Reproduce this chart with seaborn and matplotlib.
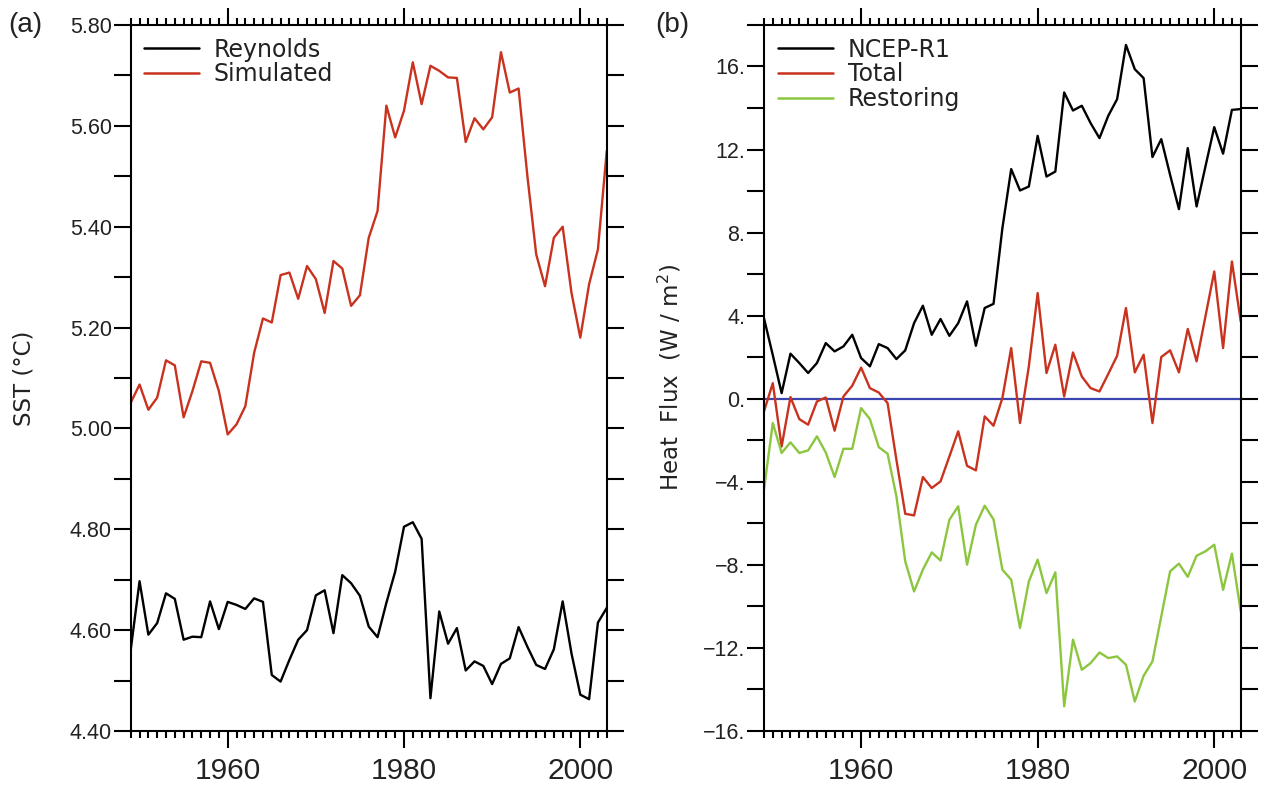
import matplotlib
matplotlib.use("Agg")
import matplotlib.pyplot as plt
import numpy as np
import pandas as pd
import seaborn as sns
from matplotlib.ticker import FixedLocator, MultipleLocator, FuncFormatter
from matplotlib.lines import Line2D

# ---------------- data ----------------
years = list(range(1949, 2004))

reynolds = [4.561, 4.697, 4.591, 4.614, 4.673, 4.662, 4.581, 4.587, 4.586, 4.657,
            4.602, 4.656, 4.650, 4.642, 4.663, 4.656, 4.511, 4.498, 4.541, 4.581,
            4.600, 4.669, 4.679, 4.594, 4.709, 4.693, 4.668, 4.607, 4.586, 4.654,
            4.716, 4.805, 4.814, 4.781, 4.465, 4.637, 4.573, 4.604, 4.520, 4.538,
            4.529, 4.493, 4.533, 4.544, 4.606, 4.567, 4.531, 4.523, 4.562, 4.657,
            4.554, 4.472, 4.463, 4.615, 4.644]

simulated = [5.051, 5.087, 5.037, 5.061, 5.135, 5.125, 5.022, 5.074, 5.133, 5.130,
             5.074, 4.988, 5.008, 5.044, 5.150, 5.218, 5.210, 5.304, 5.309, 5.257,
             5.322, 5.296, 5.229, 5.332, 5.317, 5.243, 5.264, 5.378, 5.431, 5.640,
             5.577, 5.630, 5.726, 5.643, 5.719, 5.709, 5.696, 5.695, 5.568, 5.615,
             5.593, 5.617, 5.746, 5.666, 5.674, 5.500, 5.345, 5.282, 5.378, 5.400,
             5.269, 5.180, 5.286, 5.355, 5.550]

ncep = [3.88, 2.10, 0.27, 2.17, 1.72, 1.24, 1.72, 2.68, 2.28, 2.52,
        3.08, 1.96, 1.56, 2.63, 2.44, 1.91, 2.33, 3.64, 4.48, 3.08,
        3.84, 3.03, 3.64, 4.69, 2.55, 4.37, 4.57, 8.20, 11.06, 10.03,
        10.22, 12.66, 10.70, 10.94, 14.75, 13.88, 14.11, 13.27, 12.55, 13.63,
        14.43, 17.04, 15.87, 15.44, 11.64, 12.50, 10.78, 9.13, 12.07, 9.26,
        11.18, 13.08, 11.80, 13.91, 13.95]

total = [-0.61, 0.75, -2.30, 0.08, -0.98, -1.25, -0.13, 0.06, -1.54, 0.11,
         0.63, 1.50, 0.51, 0.30, -0.21, -2.94, -5.54, -5.62, -3.77, -4.30,
         -3.98, -2.78, -1.57, -3.23, -3.45, -0.85, -1.30, 0.03, 2.44, -1.17,
         1.56, 5.09, 1.24, 2.60, 0.11, 2.23, 1.07, 0.51, 0.35, 1.20,
         2.07, 4.37, 1.27, 2.12, -1.17, 2.01, 2.33, 1.27, 3.36, 1.80,
         3.96, 6.13, 2.44, 6.61, 3.72]

restoring = [-4.38, -1.17, -2.61, -2.10, -2.61, -2.49, -1.81, -2.59, -3.77, -2.41,
             -2.41, -0.45, -0.98, -2.33, -2.65, -4.70, -7.83, -9.28, -8.23, -7.40,
             -7.79, -5.83, -5.18, -7.99, -6.07, -5.15, -5.81, -8.23, -8.71, -11.04,
             -8.80, -7.75, -9.36, -8.36, -14.81, -11.60, -13.05, -12.73, -12.22, -12.49,
             -12.41, -12.81, -14.58, -13.34, -12.65, -10.48, -8.31, -7.94, -8.58, -7.56,
             -7.35, -7.03, -9.20, -7.46, -10.24]

zero_level = 0.0

series_a = ["Reynolds", "Simulated"]
series_b = ["NCEP-R1", "Total", "Restoring"]

x_major_ticks = [1960, 1980, 2000]
sst_ticks = [4.40, 4.60, 4.80, 5.00, 5.20, 5.40, 5.60, 5.80]
flux_ticks = [-16, -12, -8, -4, 0, 4, 8, 12, 16]

# ---------------- style ----------------
RED = "#C8321E"
GREEN = "#8CC63F"
BLUE = "#3B45B0"
colors_a = {"Reynolds": "black", "Simulated": RED}
colors_b = {"NCEP-R1": "black", "Total": RED, "Restoring": GREEN}

sns.set_theme(style="white")
plt.rcParams["font.family"] = ["Liberation Sans", "DejaVu Sans"]

fig = plt.figure(figsize=(12.68, 7.9), dpi=100)
axA = fig.add_axes([0.1031, 0.0747, 0.3754, 0.8937])
axB = fig.add_axes([0.6025, 0.0747, 0.3760, 0.8937])

n = len(years)
dfA = pd.DataFrame({
    "Year": years * 2,
    "SST": reynolds + simulated,
    "Series": [series_a[0]] * n + [series_a[1]] * n,
})
dfB = pd.DataFrame({
    "Year": years * 3,
    "Flux": ncep + total + restoring,
    "Series": [series_b[0]] * n + [series_b[1]] * n + [series_b[2]] * n,
})

LW = 1.7
sns.lineplot(data=dfA, x="Year", y="SST", hue="Series", hue_order=series_a,
             palette=colors_a, linewidth=LW, ax=axA, legend=False)
axB.axhline(zero_level, color=BLUE, linewidth=1.6, zorder=1.5)
sns.lineplot(data=dfB, x="Year", y="Flux", hue="Series", hue_order=series_b,
             palette=colors_b, linewidth=LW, ax=axB, legend=False)

axA.set_ylim(4.40, 5.80)
axB.set_ylim(-16, 18)

axA.yaxis.set_major_locator(FixedLocator(sst_ticks))
axA.yaxis.set_minor_locator(MultipleLocator(0.1))
axA.yaxis.set_major_formatter(FuncFormatter(lambda v, p: f"{v:.2f}"))

axB.yaxis.set_major_locator(FixedLocator(flux_ticks))
axB.yaxis.set_minor_locator(MultipleLocator(2))
axB.yaxis.set_major_formatter(
    FuncFormatter(lambda v, p: (("\u2212" if v < 0 else "") + f"{abs(int(round(v)))}.")))

for ax in (axA, axB):
    ax.set_xlim(1949, 2003)
    ax.xaxis.set_major_locator(FixedLocator(x_major_ticks))
    ax.xaxis.set_minor_locator(MultipleLocator(1))
    ax.xaxis.set_major_formatter(FuncFormatter(lambda v, p: f"{int(v)}"))
    ax.tick_params(axis="x", which="both", direction="out", top=True, bottom=True,
                   width=1.5, color="black")
    ax.tick_params(axis="x", which="major", length=12.5, labelsize=21.5, pad=6,
                   labelcolor="#222222")
    ax.tick_params(axis="x", which="minor", length=5)
    ax.tick_params(axis="y", which="both", direction="out", left=True, right=True,
                   length=12.5, width=1.5, color="black")
    ax.tick_params(axis="y", which="major", labelsize=15.5, pad=1, labelcolor="#222222")
    for s in ax.spines.values():
        s.set_linewidth(1.5)
        s.set_color("black")
    ax.set_xlabel("")
    ax.grid(False)

axA.set_ylabel("SST (°C)", fontsize=16.5, color="#222222", family="DejaVu Sans")
axA.yaxis.set_label_coords(-0.2, 0.5)
axB.set_ylabel("Heat  Flux  (W / m$^2$)", fontsize=16.5, color="#222222",
               family="DejaVu Sans")
axB.yaxis.set_label_coords(-0.17, 0.5)

leg_kw = dict(loc="upper left", frameon=False, borderpad=0, borderaxespad=0,
              handlelength=2.35, handletextpad=0.62, labelspacing=0.03,
              prop={"family": "DejaVu Sans", "size": 17})
hA = [Line2D([], [], color=colors_a[s], linewidth=1.8) for s in series_a]
legA = axA.legend(hA, series_a, bbox_to_anchor=(0.027, 0.982), **leg_kw)
hB = [Line2D([], [], color=colors_b[s], linewidth=1.8) for s in series_b]
legB = axB.legend(hB, series_b, bbox_to_anchor=(0.029, 0.982), **leg_kw)
for leg in (legA, legB):
    for t in leg.get_texts():
        t.set_color("#222222")

fig.text(8 / 1268, 1 - 25 / 790, "(a)", fontsize=20, va="center", ha="left", color="#222222")
fig.text(655 / 1268, 1 - 25 / 790, "(b)", fontsize=20, va="center", ha="left", color="#222222")

fig.savefig("out.png", dpi=100, facecolor="white")
